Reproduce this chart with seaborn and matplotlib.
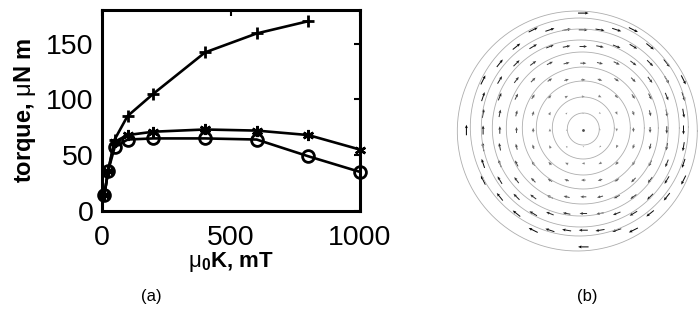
import numpy as np
import pandas as pd
import seaborn as sns
import matplotlib.pyplot as plt

# panel (a): torque vs applied field
field = [10, 25, 50, 100, 200, 400, 600, 800, 1000]
torque_plus = [14, 36, 64, 85, 105, 142, 159, 170]
torque_star = [14, 36, 62, 68, 71, 73, 72, 68, 55]
torque_circ = [14, 36, 57, 64, 65, 65, 64, 49, 35]

x_ticks = [0, 500, 1000]
y_ticks = [0, 50, 100, 150]

# panel (b): field-line rings (pixel units, y down) and arrow grid
ring_r = [16, 31, 47, 61, 76, 88, 99, 109, 120]
ring_dx = [0, 0, 0, 0, -1, -3, -3, -4, -6]
ring_dy = [-1, -2, -2, -2, -2, -2, -2, -3, 1]
centre = (583.3, 130.0)
grid_step = 16.7

sns.set_style("white")
plt.rcParams['font.family'] = ['Liberation Sans', 'DejaVu Sans']
plt.rcParams['mathtext.fontset'] = 'custom'
plt.rcParams['mathtext.rm'] = 'Liberation Sans'
plt.rcParams['mathtext.bf'] = 'Liberation Sans:bold'
for key in ['text.color', 'axes.labelcolor', 'xtick.color', 'ytick.color']:
    plt.rcParams[key] = 'black'

fig = plt.figure(figsize=(6.98, 3.2), dpi=100)

ax = fig.add_axes([101.7 / 698, 109 / 320, 258.3 / 698, 201 / 320])
lw = 1.9
mk = dict(color='k', lw=lw, markeredgecolor='k', clip_on=False)
sns.lineplot(x=field[:len(torque_plus)], y=torque_plus, ax=ax,
             marker='+', markersize=9, markeredgewidth=2.0, **mk)
sns.lineplot(x=field, y=torque_star, ax=ax,
             marker=(6, 2, 0), markersize=8, markeredgewidth=1.8, **mk)
sns.lineplot(x=field, y=torque_circ, ax=ax,
             marker='o', markersize=8.5, markerfacecolor='none',
             markeredgewidth=2.0, **mk)

ax.set_xlim(0, 1000)
ax.set_ylim(0, 180)
ax.set_xticks(x_ticks)
ax.set_yticks(y_ticks)
ax.tick_params(direction='in', length=4, width=1.5, top=True, right=True,
               labelsize=20.5, colors='k')
ax.tick_params(axis='y', pad=6)
ax.tick_params(axis='x', pad=10)
for s in ax.spines.values():
    s.set_linewidth(2.2)
    s.set_color('k')
ax.set_xlabel(r'$\mathrm{\mu}_\mathbf{0}$K, mT', fontsize=16, fontweight='bold', labelpad=-1)
ax.set_ylabel(r'torque, $\mathrm{\mu}$N m', fontsize=17, fontweight='bold', labelpad=6)

fig.text(151 / 698, 1 - 297 / 320, '(a)', ha='center', va='center', fontsize=12)
fig.text(587 / 698, 1 - 297 / 320, '(b)', ha='center', va='center', fontsize=12)

# panel (b)
bx = fig.add_axes([440 / 698, 0, 258 / 698, 1])
bx.set_xlim(440, 698)
bx.set_ylim(320, 0)
bx.axis('off')

t = np.linspace(0, 2 * np.pi, 400)
for r, dx, dy in zip(ring_r, ring_dx, ring_dy):
    bx.plot(centre[0] + dx + r * np.cos(t), centre[1] + dy + r * np.sin(t),
            color='0.68', lw=0.6)

k = np.arange(-8, 9)
gx, gy = np.meshgrid(centre[0] + k * grid_step, centre[1] + k * grid_step)
ox, oy = gx - centre[0], gy - centre[1]
rr = np.hypot(ox, oy)
inside = rr < 117
u = -oy[inside] * 0.09
v = ox[inside] * 0.09
bx.quiver(gx[inside], gy[inside], u, v, rr[inside], cmap='Greys', clim=(-70, 115),
          angles='xy', scale_units='xy', scale=1, units='xy', width=1.0,
          headwidth=3, headlength=3.5, headaxislength=3, pivot='middle')
bx.plot(centre[0], centre[1], '.', color='0.3', markersize=2)

fig.savefig('out.png', dpi=100)
